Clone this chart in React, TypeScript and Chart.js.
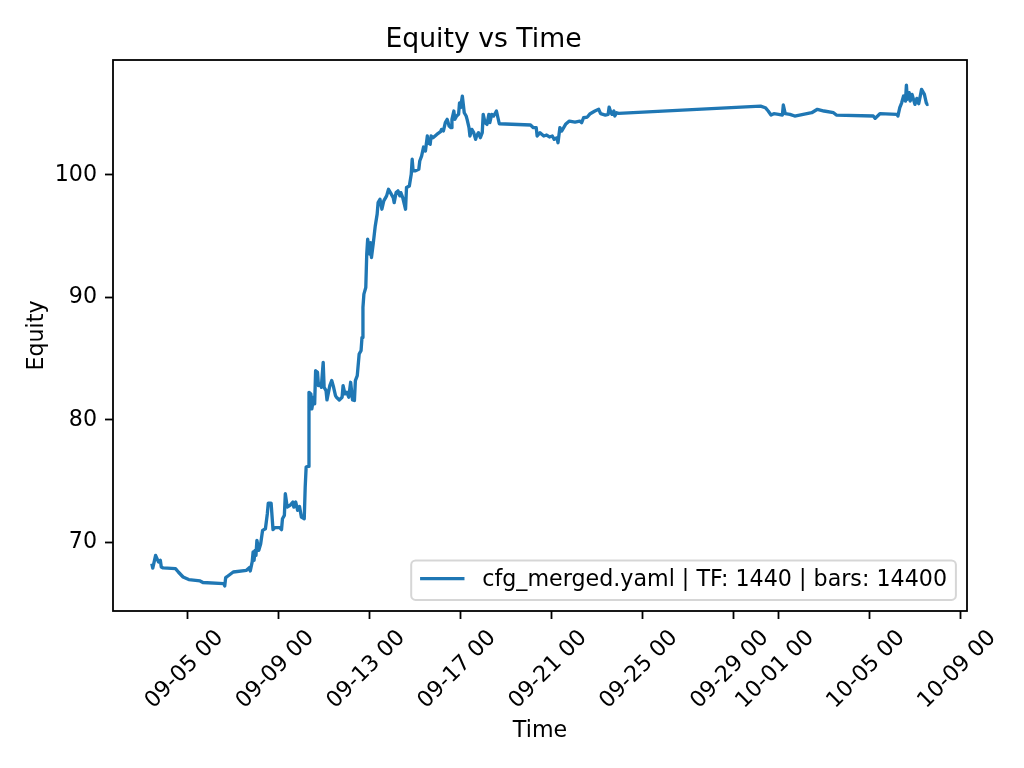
import React, { useEffect, useRef } from "react";
import { Chart, registerables } from "chart.js";

Chart.register(...registerables);

const TITLE = "Equity vs Time";
const X_LABEL = "Time";
const Y_LABEL = "Equity";
const SERIES_LABEL = "cfg_merged.yaml | TF: 1440 | bars: 14400";
const YEAR = 2025;
const LINE_COLOR = "#1f77b4";
const FAMILY = "'DejaVu Sans', sans-serif";

const times: string[] = [
  "09-03 10:00", "09-03 11:00", "09-03 14:00", "09-03 17:00", "09-03 19:00", "09-03 20:00", "09-03 22:00",
  "09-04 11:00", "09-04 14:00", "09-04 19:00", "09-05 01:00", "09-05 13:00", "09-05 16:00",
  "09-06 14:00", "09-06 15:00", "09-06 16:00", "09-06 17:00", "09-07 00:00", "09-07 14:00", "09-07 17:00",
  "09-07 18:00", "09-07 20:00", "09-07 21:00", "09-07 22:00", "09-07 23:00", "09-08 00:00", "09-08 01:00",
  "09-08 03:00", "09-08 05:00", "09-08 07:00", "09-08 10:00", "09-08 12:00", "09-08 13:00", "09-08 16:00",
  "09-08 18:00", "09-08 20:00", "09-09 01:00", "09-09 03:00", "09-09 04:00", "09-09 06:00", "09-09 07:00",
  "09-09 09:00", "09-09 12:00", "09-09 15:00", "09-09 16:00", "09-09 18:00", "09-09 20:00", "09-09 22:00",
  "09-10 00:00", "09-10 03:00", "09-10 04:00", "09-10 05:00", "09-10 07:00", "09-10 08:00", "09-10 10:00",
  "09-10 11:00", "09-10 13:00", "09-10 14:00", "09-10 15:00", "09-10 17:00", "09-10 18:00", "09-10 20:00",
  "09-10 21:00", "09-10 23:00", "09-11 00:00", "09-11 02:00", "09-11 03:00", "09-11 06:00", "09-11 08:00",
  "09-11 10:00", "09-11 12:00", "09-11 13:00", "09-11 16:00", "09-11 19:00", "09-11 20:00", "09-11 22:00",
  "09-12 00:00", "09-12 02:00", "09-12 04:00", "09-12 06:00", "09-12 08:00", "09-12 09:00", "09-12 11:00",
  "09-12 13:00", "09-12 15:00", "09-12 16:00", "09-12 17:00", "09-12 18:00", "09-12 20:00", "09-12 21:00",
  "09-12 22:00", "09-13 00:00", "09-13 01:00", "09-13 02:00", "09-13 04:00", "09-13 06:00", "09-13 08:00",
  "09-13 09:00", "09-13 11:00", "09-13 13:00", "09-13 15:00", "09-13 18:00", "09-13 20:00", "09-13 22:00",
  "09-14 01:00", "09-14 02:00", "09-14 04:00", "09-14 06:00", "09-14 08:00", "09-14 09:00", "09-14 11:00",
  "09-14 14:00", "09-14 15:00", "09-14 18:00", "09-14 20:00", "09-14 21:00", "09-14 22:00", "09-15 00:00",
  "09-15 04:00", "09-15 05:00", "09-15 07:00", "09-15 09:00", "09-15 11:00", "09-15 13:00", "09-15 14:00",
  "09-15 16:00", "09-15 17:00", "09-15 19:00", "09-15 23:00", "09-16 03:00", "09-16 04:00", "09-16 06:00",
  "09-16 08:00", "09-16 10:00", "09-16 12:00", "09-16 14:00", "09-16 15:00", "09-16 17:00", "09-16 18:00",
  "09-16 20:00", "09-16 22:00", "09-16 23:00", "09-17 00:00", "09-17 02:00", "09-17 03:00", "09-17 04:00",
  "09-17 06:00", "09-17 07:00", "09-17 09:00", "09-17 10:00", "09-17 12:00", "09-17 14:00", "09-17 16:00",
  "09-17 17:00", "09-17 19:00", "09-17 21:00", "09-17 23:00", "09-18 00:00", "09-18 02:00", "09-18 04:00",
  "09-18 06:00", "09-18 07:00", "09-18 09:00", "09-18 11:00", "09-18 13:00", "09-18 14:00", "09-18 17:00",
  "09-20 02:00", "09-20 05:00", "09-20 08:00", "09-20 09:00", "09-20 12:00", "09-20 16:00", "09-20 19:00",
  "09-20 22:00", "09-21 01:00", "09-21 03:00", "09-21 06:00", "09-21 07:00", "09-21 09:00", "09-21 11:00",
  "09-21 15:00", "09-21 19:00", "09-22 01:00", "09-22 06:00", "09-22 08:00", "09-22 10:00", "09-22 14:00",
  "09-22 17:00", "09-22 22:00", "09-23 02:00", "09-23 04:00", "09-23 09:00", "09-23 12:00", "09-23 13:00",
  "09-23 15:00", "09-23 16:00", "09-23 18:00", "09-23 19:00", "09-23 21:00", "09-23 23:00", "09-30 05:00",
  "09-30 10:00", "09-30 13:00", "09-30 16:00", "09-30 19:00", "10-01 00:00", "10-01 04:00", "10-01 05:00",
  "10-01 07:00", "10-01 12:00", "10-01 17:00", "10-02 02:00", "10-02 11:00", "10-02 17:00", "10-03 00:00",
  "10-03 10:00", "10-03 13:00", "10-05 04:00", "10-05 06:00", "10-05 11:00", "10-06 05:00", "10-06 06:00",
  "10-06 08:00", "10-06 10:00", "10-06 12:00", "10-06 14:00", "10-06 15:00", "10-06 16:00", "10-06 18:00",
  "10-06 19:00", "10-06 21:00", "10-06 23:00", "10-07 00:00", "10-07 02:00", "10-07 04:00", "10-07 06:00",
  "10-07 07:00", "10-07 10:00", "10-07 12:00", "10-07 13:00", "10-07 14:00",
];

const equity: number[] = [
  68.26, 67.9, 68.94, 68.4, 68.53, 67.99, 67.91,
  67.86, 67.58, 67.17, 66.96, 66.85, 66.72,
  66.63, 66.44, 67.12, 67.17, 67.58, 67.72, 67.94,
  67.66, 68.4, 69.21, 68.53, 69.35, 68.94, 70.16,
  69.35, 69.89, 70.98, 71.11, 72.34, 73.21, 73.21,
  71.04, 71.2, 71.2, 71.04, 71.93, 72.2, 73.97,
  72.88, 73.02, 73.29, 72.88, 73.29, 72.61, 72.93,
  72.06, 71.93, 74.51, 76.14, 76.2, 82.25, 82.12,
  80.9, 81.85, 81.31, 84.02, 83.89, 82.8, 82.94,
  82.66, 84.7, 82.66, 82.39, 81.63, 82.8, 83.21,
  82.66, 81.98, 81.85, 81.63, 81.85, 82.8, 82.12,
  82.25, 81.85, 83.07, 81.63, 81.58, 83.21, 83.61,
  85.38, 85.65, 86.73, 89.18, 90.27, 90.81, 93.54,
  94.76, 93.54, 94.48, 93.26, 94.48, 95.84, 96.8,
  97.74, 98.02, 97.2, 97.88, 98.29, 98.83, 98.56,
  98.15, 97.74, 98.56, 98.7, 98.29, 98.56, 98.15,
  97.2, 98.97, 99.1, 100.05, 101.28, 100.33, 100.33,
  100.46, 101.14, 101.55, 102.28, 101.96, 103.18, 102.63,
  102.5, 103.18, 103.04, 103.31, 103.53, 103.72, 103.59,
  104.27, 104.54, 104.0, 103.86, 104.54, 105.22, 104.54,
  104.81, 104.95, 105.89, 105.49, 106.44, 105.76, 105.08,
  104.81, 104.54, 103.86, 103.18, 103.72, 103.45, 102.91,
  103.18, 103.45, 103.04, 103.45, 104.95, 104.27, 104.13,
  104.95, 104.27, 104.95, 104.81, 105.08, 105.22, 104.18,
  104.08, 103.86, 103.86, 103.18, 103.45, 103.18, 103.26,
  103.1, 103.18, 102.91, 103.04, 102.63, 103.86, 103.59,
  104.13, 104.4, 104.32, 104.4, 104.27, 104.67, 104.73,
  105.0, 105.22, 105.36, 105.0, 104.89, 104.95, 105.54,
  105.08, 104.95, 105.22, 104.81, 105.08, 105.03, 105.62,
  105.49, 105.22, 104.89, 105.0, 104.95, 104.89, 105.71,
  105.0, 104.95, 104.81, 104.95, 105.08, 105.36, 105.22,
  105.08, 104.89, 104.81, 104.62, 105.0, 104.95, 104.81,
  105.49, 105.89, 106.44, 106.03, 107.34, 106.17, 106.72,
  106.03, 106.58, 106.03, 105.76, 106.25, 105.81, 106.58,
  106.99, 106.58, 105.89, 105.76, 105.81,
];

const xTickLabels: string[] = [
  "09-05 00", "09-09 00", "09-13 00", "09-17 00", "09-21 00",
  "09-25 00", "09-29 00", "10-01 00", "10-05 00", "10-09 00",
];

const yTicks: number[] = [70, 80, 90, 100];

function parseTime(s: string): number {
  const m = s.match(/^(\d{2})-(\d{2}) (\d{2})(?::(\d{2}))?$/);
  if (!m) return NaN;
  return Date.UTC(YEAR, +m[1] - 1, +m[2], +m[3], m[4] ? +m[4] : 0) / 3600000;
}

function pad2(n: number): string {
  return n < 10 ? "0" + n : String(n);
}

function formatTick(hours: number): string {
  const d = new Date(Math.round(hours * 3600000));
  return `${pad2(d.getUTCMonth() + 1)}-${pad2(d.getUTCDate())} ${pad2(d.getUTCHours())}`;
}

const TICK_FONT = 22.2;

const framePlugin = {
  id: "mplFrameLegend",
  afterDraw(chart: any) {
    const { ctx, chartArea } = chart;
    const { left, top, right, bottom } = chartArea;
    ctx.save();
    // axes frame
    ctx.strokeStyle = "#000";
    ctx.lineWidth = 1.8;
    ctx.strokeRect(left, top, right - left, bottom - top);

    // legend (lower right, inside axes)
    const F = TICK_FONT;
    ctx.font = `${F}px ${FAMILY}`;
    const tw = ctx.measureText(SERIES_LABEL).width;
    const bpad = 0.4 * F;
    const handleLen = 2 * F;
    const handlePad = 0.8 * F;
    const axPad = 0.5 * F;
    const w = bpad + handleLen + handlePad + tw + bpad;
    const h = 39.5;
    const r = right - axPad;
    const b = bottom - axPad;
    const lx = r - w;
    const ty = b - h;
    ctx.beginPath();
    (ctx as any).roundRect(lx, ty, w, h, 0.2 * F);
    ctx.fillStyle = "rgba(255,255,255,0.8)";
    ctx.fill();
    ctx.lineWidth = 2;
    ctx.strokeStyle = "rgba(204,204,204,0.8)";
    ctx.stroke();
    const cy = ty + h / 2;
    ctx.beginPath();
    ctx.moveTo(lx + bpad, cy - 1.5);
    ctx.lineTo(lx + bpad + handleLen, cy - 1.5);
    ctx.strokeStyle = LINE_COLOR;
    ctx.lineWidth = 3.33;
    ctx.stroke();
    ctx.fillStyle = "#000";
    ctx.textAlign = "left";
    ctx.textBaseline = "middle";
    ctx.fillText(SERIES_LABEL, lx + bpad + handleLen + handlePad, cy);
    ctx.restore();
  },
};

export default function App() {
  const canvasRef = useRef<HTMLCanvasElement | null>(null);

  useEffect(() => {
    const canvas = canvasRef.current;
    if (!canvas) return;

    const xs = times.map(parseTime);
    const points = xs.map((x, i) => ({ x, y: equity[i] }));
    const xMinData = Math.min(...xs);
    const xMaxData = Math.max(...xs);
    const xPad = (xMaxData - xMinData) * 0.05;
    const yMinData = Math.min(...equity);
    const yMaxData = Math.max(...equity);
    const yPad = (yMaxData - yMinData) * 0.05;
    const xTickValues = xTickLabels.map(parseTime);

    const tickFont = { family: FAMILY, size: TICK_FONT, weight: "normal" as const, lineHeight: 1.2 };
    const gridOpts = {
      display: true,
      drawOnChartArea: false,
      drawTicks: true,
      tickLength: 8,
      tickWidth: 1.8,
      tickColor: "#000",
    };

    const chart = new Chart(canvas, {
      type: "line",
      data: {
        datasets: [
          {
            label: SERIES_LABEL,
            data: points,
            borderColor: LINE_COLOR,
            backgroundColor: LINE_COLOR,
            borderWidth: 3.33,
            pointRadius: 0,
            pointHoverRadius: 0,
            tension: 0,
            fill: false,
            borderJoinStyle: "round",
          },
        ],
      },
      options: {
        responsive: false,
        animation: false,
        devicePixelRatio: 1,
        events: [],
        layout: { padding: { top: 0, left: 0, right: 57, bottom: 0 } },
        plugins: {
          legend: { display: false },
          tooltip: { enabled: false },
          title: {
            display: true,
            text: TITLE,
            color: "#000",
            font: { family: FAMILY, size: 26.67, weight: "normal", lineHeight: 1.2 },
            padding: { top: 24, bottom: 4 },
          },
        },
        scales: {
          x: {
            type: "linear",
            min: xMinData - xPad,
            max: xMaxData + xPad,
            bounds: "data",
            afterBuildTicks: (scale: any) => {
              scale.ticks = xTickValues.map((v) => ({ value: v }));
            },
            afterFit: (scale: any) => {
              scale.height = 157;
            },
            ticks: {
              autoSkip: false,
              minRotation: 45,
              maxRotation: 45,
              labelOffset: 32,
              padding: 6,
              color: "#000",
              font: tickFont,
              callback: (v: any) => formatTick(Number(v)),
            },
            grid: gridOpts,
            border: { display: false },
            title: {
              display: true,
              text: X_LABEL,
              color: "#000",
              font: tickFont,
              padding: { top: 0, bottom: 23 },
            },
          },
          y: {
            type: "linear",
            min: yMinData - yPad,
            max: yMaxData + yPad,
            bounds: "data",
            afterBuildTicks: (scale: any) => {
              scale.ticks = yTicks.map((v) => ({ value: v }));
            },
            afterFit: (scale: any) => {
              scale.width = 113;
            },
            ticks: {
              padding: 8,
              color: "#000",
              font: tickFont,
              callback: (v: any) => String(v),
            },
            grid: gridOpts,
            border: { display: false },
            title: {
              display: true,
              text: Y_LABEL,
              color: "#000",
              font: tickFont,
              padding: { top: 24, bottom: 0 },
            },
          },
        },
      },
      plugins: [framePlugin],
    } as any);

    return () => {
      chart.destroy();
    };
  }, []);

  return (
    <div
      style={{
        position: "absolute",
        left: 0,
        top: 0,
        width: 1024,
        height: 768,
        background: "#fff",
      }}
    >
      <canvas ref={canvasRef} width={1024} height={768} style={{ width: 1024, height: 768 }} />
    </div>
  );
}
